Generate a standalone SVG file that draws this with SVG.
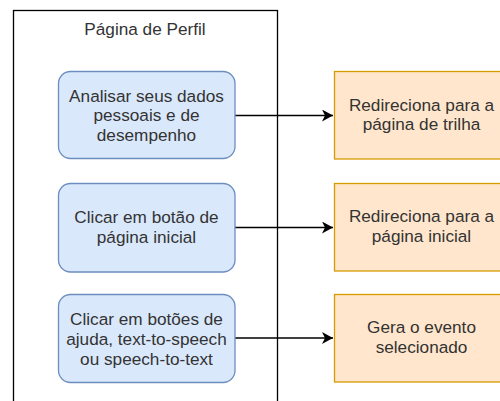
<svg xmlns="http://www.w3.org/2000/svg" width="500" height="401" viewBox="0 0 500 401">
<style>
text{font-family:"Liberation Sans",Arial,sans-serif;font-size:17.2px;fill:#333;text-anchor:middle}
.act{fill:#dae8fc;stroke:#6c8ebf;stroke-width:1.3}
.res{fill:#ffe6cc;stroke:#d79b00;stroke-width:1.3}
.edge{stroke:#000;stroke-width:1.3;fill:none}
</style>
<defs>
<marker id="arr" markerWidth="12" markerHeight="12" refX="11" refY="6" orient="auto" markerUnits="userSpaceOnUse">
<path d="M0,0 L11,6 L0,12 L3,6 Z" fill="#000"/>
</marker>
</defs>
<rect width="500" height="401" fill="#fff"/>
<g id="container">
<rect x="13.5" y="10.5" width="264" height="400" fill="none" stroke="#000" stroke-width="1.3"/>
<text x="145" y="35">Página de Perfil</text>
</g>
<g id="connectors">
<path class="edge" d="M235,115.5 L333,115.5" marker-end="url(#arr)"/>
<path class="edge" d="M235,227.5 L333,227.5" marker-end="url(#arr)"/>
<path class="edge" d="M235,338 L333,338" marker-end="url(#arr)"/>
</g>
<g id="n1">
<rect class="act" x="58.5" y="71.5" width="176.5" height="87" rx="12"/>
<text x="146.5" y="101.5">Analisar seus dados</text>
<text x="146.5" y="121">pessoais e de</text>
<text x="146.5" y="140.5">desempenho</text>
</g>
<g id="n2">
<rect class="act" x="58.5" y="183.5" width="176.5" height="88.5" rx="12"/>
<text x="146.5" y="223">Clicar em botão de</text>
<text x="146.5" y="242.5">página inicial</text>
</g>
<g id="n3">
<rect class="act" x="58.5" y="294.5" width="176.5" height="88" rx="12"/>
<text x="146.5" y="324.5">Clicar em botões de</text>
<text x="146.5" y="344.5">ajuda, text-to-speech</text>
<text x="146.5" y="364.5">ou speech-to-text</text>
</g>
<g id="r1">
<rect class="res" x="334.5" y="71.5" width="176" height="87.5"/>
<text x="421.5" y="110.5">Redireciona para a</text>
<text x="421.5" y="130">página de trilha</text>
</g>
<g id="r2">
<rect class="res" x="334.5" y="183.5" width="176" height="87.5"/>
<text x="421.5" y="222">Redireciona para a</text>
<text x="421.5" y="241.5">página inicial</text>
</g>
<g id="r3">
<rect class="res" x="334.5" y="294.5" width="176" height="87.5"/>
<text x="421.5" y="333">Gera o evento</text>
<text x="421.5" y="352.5">selecionado</text>
</g>
</svg>
